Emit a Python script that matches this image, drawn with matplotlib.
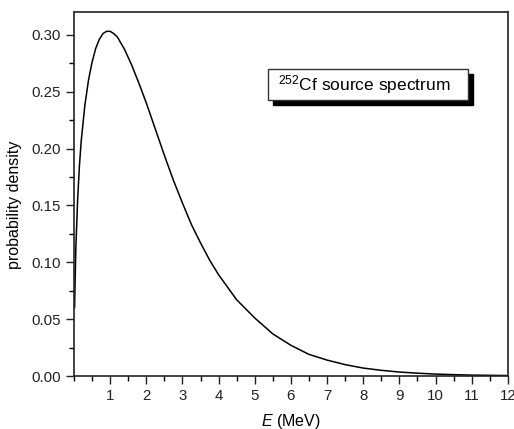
import matplotlib
matplotlib.use("Agg")
import matplotlib.pyplot as plt
from matplotlib.patches import Rectangle
from matplotlib.ticker import MultipleLocator

plt.rcParams['font.family'] = ['Liberation Sans', 'DejaVu Sans']
plt.rcParams['mathtext.fontset'] = 'custom'
plt.rcParams['mathtext.rm'] = 'Liberation Sans'
plt.rcParams['mathtext.it'] = 'Liberation Sans:italic'

# energy (MeV) and probability density
energy = [0.015, 0.05, 0.1, 0.15, 0.2, 0.3, 0.4, 0.5, 0.6, 0.7, 0.8, 0.9,
          1.0, 1.1, 1.2, 1.4, 1.6, 1.8, 2.0, 2.25, 2.5, 2.75, 3.0, 3.25,
          3.5, 3.75, 4.0, 4.5, 5.0, 5.5, 6.0, 6.5, 7.0, 7.5, 8.0, 8.5,
          9.0, 9.5, 10.0, 10.5, 11.0, 11.5, 12.0]
density = [0.060, 0.112, 0.155, 0.185, 0.207, 0.238, 0.260, 0.276, 0.288,
           0.296, 0.301, 0.303, 0.303, 0.301, 0.298, 0.287, 0.273, 0.257,
           0.240, 0.217, 0.194, 0.172, 0.152, 0.133, 0.117, 0.102, 0.089,
           0.067, 0.051, 0.037, 0.027, 0.019, 0.014, 0.010, 0.0070, 0.0050,
           0.0035, 0.0025, 0.0017, 0.0012, 0.0008, 0.0006, 0.0004]

xticks = list(range(1, 13))
yticks = [0.00, 0.05, 0.10, 0.15, 0.20, 0.25, 0.30]

fig = plt.figure(figsize=(5.14, 4.29), dpi=100)
ax = fig.add_axes([0.144, 0.1235, 0.844, 0.8485])

ax.plot(energy, density, color='black', lw=1.1)

ax.set_xlim(0, 12)
ax.set_ylim(0, 0.32)
ax.set_xticks(xticks)
ax.set_yticks(yticks)
ax.set_yticklabels([f"{v:.2f}" for v in yticks])
ax.xaxis.set_minor_locator(MultipleLocator(0.5))
ax.yaxis.set_minor_locator(MultipleLocator(0.025))
ax.tick_params(which='major', direction='out', length=6, width=1, labelsize=10.8,
               colors='#222222', top=False, right=False)
ax.tick_params(which='minor', direction='out', length=3.5, width=1, top=False, right=False)
for s in ax.spines.values():
    s.set_linewidth(1.2)
    s.set_color('#222222')

ax.set_xlabel("$\\mathit{E}$ (MeV)", fontsize=11.5, labelpad=6)
ax.set_ylabel("probability density", fontsize=11.5, labelpad=4)
ax.yaxis.set_label_coords(-0.12, 0.47)

# legend-like box with drop shadow
fig.patches.append(Rectangle((0.531, 0.755), 0.390, 0.0723, transform=fig.transFigure,
                             facecolor='black', edgecolor='black', zorder=5))
fig.patches.append(Rectangle((0.5214, 0.767), 0.389, 0.0723, transform=fig.transFigure,
                             facecolor='white', edgecolor='#333333', lw=1, zorder=6))
fig.text(0.541, 0.803, "$^{252}$Cf source spectrum", fontsize=12.5, va='center',
         ha='left', zorder=7)

fig.savefig("out.png", dpi=100)
